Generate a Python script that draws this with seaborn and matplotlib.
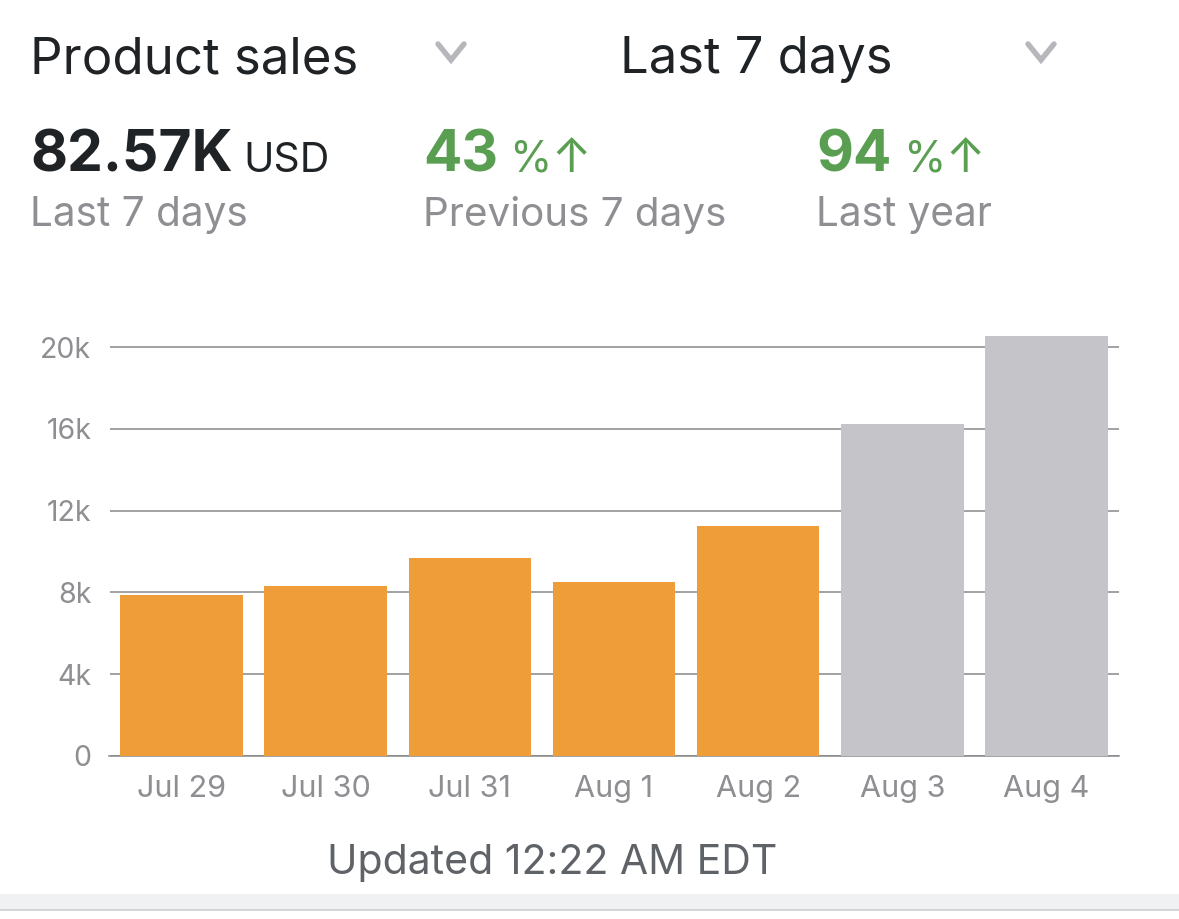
import pandas as pd
import seaborn as sns
import matplotlib.pyplot as plt
from matplotlib.lines import Line2D
from matplotlib.patches import Rectangle

days = ['Jul 29', 'Jul 30', 'Jul 31', 'Aug 1', 'Aug 2', 'Aug 3', 'Aug 4']
sales = [7860, 8310, 9670, 8510, 11250, 16240, 20560]
status = ['done', 'done', 'done', 'done', 'done', 'open', 'open']
y_ticks = [0, 4000, 8000, 12000, 16000, 20000]
y_labels = ['0', '4k', '8k', '12k', '16k', '20k']

W, H = 1179, 919
DARK = '#1f2326'
GREEN = '#5a9f51'
GRAY = '#8e8e93'

sns.set_style('white')
plt.rcParams['font.family'] = ['Inter', 'DejaVu Sans']

df = pd.DataFrame({'day': days, 'sales': sales, 'status': status})

fig = plt.figure(figsize=(W / 100, H / 100), dpi=100, facecolor='white')
# axes box in pixels: x 110-1119, y 347 (20k) down to 756 (0), ylim stops at 21k
top = 756 - 409 * 21 / 20
ax = fig.add_axes([109.5 / W, 1 - 756 / H, 1009 / W, (756 - top) / H])

sns.barplot(data=df, x='day', y='sales', hue='status', dodge=False, width=0.85,
            palette={'done': '#ef9d38', 'open': '#c5c5c9'}, legend=False,
            saturation=1, linewidth=0, ax=ax, zorder=3)

ax.set_xlim(-0.5, 6.5)
ax.set_ylim(0, 21000)
ax.set_yticks(y_ticks)
ax.set_yticklabels(y_labels)
ax.set_xlabel('')
ax.set_ylabel('')
ax.grid(axis='y', color='#87878b', lw=1.1, zorder=0)
ax.set_axisbelow(True)
ax.tick_params(axis='y', length=0, pad=13, labelsize=20.5, labelcolor=GRAY)
ax.tick_params(axis='x', length=0, pad=13.5, labelsize=22, labelcolor=GRAY)
sns.despine(ax=ax, left=True, top=True, right=True)
ax.spines['bottom'].set_color('#87878b')
ax.spines['bottom'].set_linewidth(1.1)


def label(x, y, s, size, color, weight='normal', ha='left'):
    return fig.text(x / W, 1 - y / H, s, fontsize=size, color=color,
                    fontweight=weight, ha=ha, va='baseline')


def chevron(x, y):
    fig.add_artist(Line2D([(x - 13) / W, x / W, (x + 13) / W],
                          [1 - (y - 9) / H, 1 - (y + 7) / H, 1 - (y - 9) / H],
                          color='#b7b7bb', lw=3.9, solid_joinstyle='miter'))


label(30, 73, 'Product sales', 36.7, DARK)
label(620, 73, 'Last 7 days', 36.5, DARK)
chevron(451, 53)
chevron(1041, 53)

label(30, 172, '82.57K', 41, DARK, weight='bold')
label(243, 172, 'USD', 29.5, DARK)
label(30, 226, 'Last 7 days', 29.2, GRAY)

label(423, 172, '43', 41, GREEN, weight='bold')
label(509, 172, '%', 31, GREEN)
label(551, 172, '↑', 34, GREEN)
label(423, 226, 'Previous 7 days', 29.1, GRAY)

label(816, 172, '94', 41, GREEN, weight='bold')
label(903, 172, '%', 31, GREEN)
label(945, 172, '↑', 34, GREEN)
label(816, 226, 'Last year', 29.2, GRAY)

label(552, 874, 'Updated 12:22 AM EDT', 29.5, '#5f6368', ha='center')

# footer strip under the card
fig.add_artist(Rectangle((0, 1 - 909 / H), 1, 15 / H, color='#f0f1f3', lw=0))
fig.add_artist(Rectangle((0, 1 - 911 / H), 1, 2 / H, color='#d5d6d8', lw=0))

fig.savefig('out.png', dpi=100)
